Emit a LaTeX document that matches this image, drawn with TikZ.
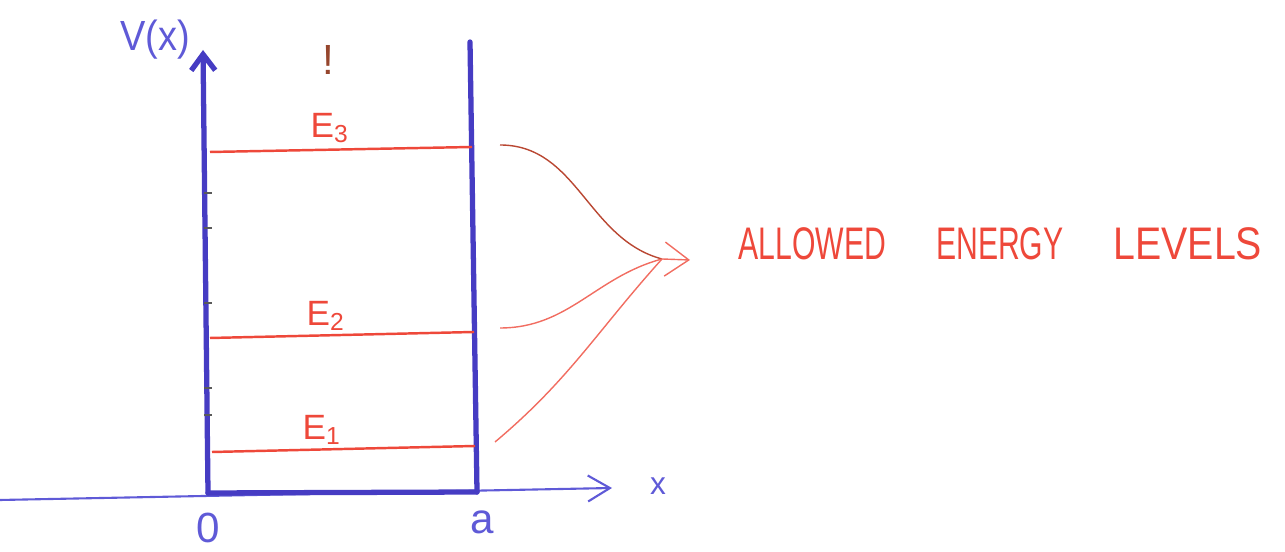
\documentclass[tikz,border=0pt]{standalone}
\usepackage{fontspec}
\setmainfont{Liberation Sans}
\usepackage{graphicx}
\usetikzlibrary{arrows.meta, positioning}
\definecolor{pen}{RGB}{70,60,195}
\definecolor{penlt}{RGB}{95,90,215}
\definecolor{ink}{RGB}{238,72,58}
\definecolor{inkdk}{RGB}{150,70,45}

\begin{document}
\begin{tikzpicture}[
    wall/.style={pen,line width=1.5pt,line cap=round},
    axis/.style={penlt,line width=0.6pt},
    level/.style={ink,line width=0.7pt},
    tick/.style={gray!70!black,line width=0.3pt},
    feed/.style={ink!80,line width=0.4pt},
    lvllabel/.style={text=ink,font=\fontsize{10}{12}\selectfont,inner sep=0pt}]
    \useasboundingbox(0,0)rectangle(12.85,5.52);
    % Axes and walls
    \coordinate(xl)at(0,0.52);
    \coordinate(xr)at(6.12,0.64);
    \coordinate(o)at(2.08,0.59);
    \coordinate(vt)at(2.03,5.02);
    \coordinate(wt)at(4.70,5.10);
    \coordinate(wb)at(4.77,0.60);
    \draw[axis,-{Straight Barb[length=2.2mm,width=2.6mm]}](xl)--(xr);
    \draw[wall,-{Straight Barb[length=1.6mm,width=2.4mm]}](o)--(vt);
    \draw[wall](wt)--(wb);
    \draw[wall](o)--(wb);
    \node[text=penlt,font=\fontsize{12}{14}\selectfont](vx)at(1.55,5.12){\scalebox{0.9}[1]{V(x)}};
    \node[text=penlt,font=\fontsize{9}{11}\selectfont](xlab)at(6.58,0.66){x};
    \node[text=penlt,font=\fontsize{12}{14}\selectfont](zero)at(2.08,0.24){0};
    \node[text=penlt,font=\fontsize{12}{14}\selectfont](alab)at(4.82,0.30){a};
    \node[text=inkdk,font=\fontsize{12}{14}\selectfont](bang)at(3.28,4.92){!};
    % Ticks on the V axis
    \foreach \ty in {3.59,3.24,2.49,1.64,1.37}
        \draw[tick](2.04,\ty)--(2.12,\ty);
    % Energy levels
    \coordinate(e3l)at(2.10,4.00); \coordinate(e3r)at(4.72,4.05);
    \coordinate(e2l)at(2.10,2.14); \coordinate(e2r)at(4.74,2.20);
    \coordinate(e1l)at(2.12,1.00); \coordinate(e1r)at(4.75,1.06);
    \draw[level](e3l)--(e3r);
    \draw[level](e2l)--(e2r);
    \draw[level](e1l)--(e1r);
    \node[lvllabel](E3)at(3.30,4.24){E\textsubscript{3}};
    \node[lvllabel](E2)at(3.26,2.36){E\textsubscript{2}};
    \node[lvllabel](E1)at(3.22,1.22){E\textsubscript{1}};
    % Pointers to the caption
    \coordinate(hub)at(6.62,2.93);
    \coordinate(tip)at(6.90,2.92);
    \coordinate(p3)at(5.00,4.07);
    \coordinate(p2)at(5.00,2.24);
    \coordinate(p1)at(4.95,1.10);
    \draw[feed,inkdk!60!ink](p3)to[out=0,in=165](hub);
    \draw[feed](p2)to[out=0,in=195](hub);
    \draw[feed](p1)to[out=40,in=228](hub);
    \draw[feed,-{Straight Barb[length=2.4mm,width=3.4mm]}](hub)--(tip);
    \node[text=ink,font=\fontsize{13}{15}\selectfont,anchor=west,inner sep=0pt](caption)
        at(7.38,3.08){\scalebox{0.66}[1]{ALLOWED}\hspace{0.5cm}%
        \scalebox{0.66}[1]{ENERGY}\hspace{0.5cm}\scalebox{0.86}[1]{LEVELS}};
\end{tikzpicture}
\end{document}
